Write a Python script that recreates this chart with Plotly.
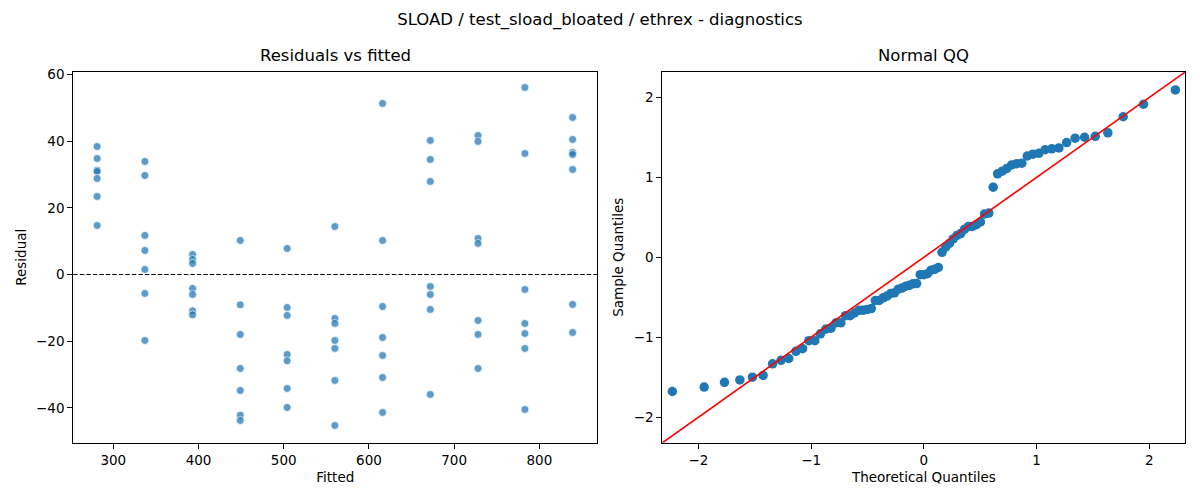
from statistics import NormalDist, mean, pstdev

import plotly.graph_objects as go

# residuals vs fitted, one column of 7 runs per fitted level
fitted = [281] * 7 + [337] * 7 + [393] * 7 + [449] * 7 + [504] * 7 + [560] * 7 + \
         [616] * 7 + [672] * 7 + [728] * 7 + [783] * 7 + [839] * 7
residuals = [
    38.4, 34.8, 31.3, 30.9, 28.8, 23.4, 14.7,
    33.9, 29.7, 11.7, 7.2, 1.5, -5.7, -19.8,
    6.0, 4.5, 3.3, -4.2, -6.0, -10.9, -12.1,
    10.2, -9.1, -18.0, -28.2, -34.8, -42.2, -43.8,
    7.8, -9.9, -12.3, -24.0, -25.9, -34.2, -39.9,
    14.4, -13.2, -14.7, -19.8, -22.2, -31.8, -45.3,
    51.3, 10.2, -9.6, -18.9, -24.3, -30.9, -41.4,
    40.2, 34.5, 27.9, -3.6, -6.0, -10.5, -36.0,
    41.7, 39.9, 10.8, 9.3, -13.8, -18.0, -28.2,
    56.1, 36.3, -4.5, -14.7, -17.7, -22.2, -40.5,
    47.1, 40.5, 36.6, 36.0, 31.5, -9.0, -17.4,
]

fitted_ticks = [300, 400, 500, 600, 700, 800]
residual_ticks = [-40, -20, 0, 20, 40, 60]
qq_ticks = [-2, -1, 0, 1, 2]
qq_range = [-2.32, 2.32]

# normal QQ: standardised residuals against normal quantiles (i / (n + 1))
n = len(residuals)
loc, scale = mean(residuals), pstdev(residuals)
sample_q = sorted((r - loc) / scale for r in residuals)
theoretical_q = [NormalDist().inv_cdf(i / (n + 1)) for i in range(1, n + 1)]

font = 'DejaVu Sans'
blue = '#1f77b4'

fig = go.Figure()

fig.add_trace(go.Scatter(x=fitted, y=residuals, mode='markers', xaxis='x', yaxis='y',
                         marker=dict(color=blue, opacity=0.72, size=8,
                                     line=dict(color='white', width=0.8)),
                         showlegend=False))
fig.add_trace(go.Scatter(x=theoretical_q, y=sample_q, mode='markers', xaxis='x2', yaxis='y2',
                         marker=dict(color=blue, size=9.5), showlegend=False))
fig.add_trace(go.Scatter(x=qq_range, y=qq_range, mode='lines', xaxis='x2', yaxis='y2',
                         line=dict(color='red', width=1.6), showlegend=False))

fig.add_shape(type='line', xref='x domain', yref='y', x0=0, x1=1, y0=0, y1=0,
              line=dict(color='black', width=1.1, dash='4.5px,2px'))

axis_style = dict(showline=True, mirror=True, linecolor='black', linewidth=1.1,
                  ticks='outside', ticklen=5, tickcolor='black', tickwidth=1.1,
                  showgrid=False, zeroline=False,
                  tickfont=dict(family=font, size=13.5, color='black'))

# the page body adds an 8px offset, so the domains are shifted up/left to compensate
fig.update_layout(
    width=1200, height=500,
    margin=dict(l=0, r=0, t=0, b=0),
    paper_bgcolor='white', plot_bgcolor='white',
    font=dict(family=font, color='black'),
    title=dict(text='SLOAD / test_sload_bloated / ethrex - diagnostics',
               x=0.4933, xanchor='center', y=0.99, yanchor='top',
               font=dict(family=font, size=16.5, color='black')),
    xaxis=dict(axis_style, domain=[0.0544, 0.4911], range=[253, 868], tickvals=fitted_ticks,
               title=dict(text='Fitted', standoff=5, font=dict(size=13.5))),
    yaxis=dict(axis_style, domain=[0.132, 0.883], range=[-50.5, 60.8], tickvals=residual_ticks,
               title=dict(text='Residual', standoff=6, font=dict(size=13.5))),
    xaxis2=dict(axis_style, domain=[0.5453, 0.9811], range=qq_range, tickvals=qq_ticks,
                ticktext=['\u22122', '\u22121', '0', '1', '2'], anchor='y2',
                title=dict(text='Theoretical Quantiles', standoff=5, font=dict(size=13.5))),
    yaxis2=dict(axis_style, domain=[0.132, 0.883], range=qq_range, tickvals=qq_ticks,
                ticktext=['\u22122', '\u22121', '0', '1', '2'], anchor='x2',
                title=dict(text='Sample Quantiles', standoff=6, font=dict(size=13.5))),
    annotations=[
        dict(text='Residuals vs fitted', xref='paper', yref='paper', x=0.2728, y=0.883,
             xanchor='center', yanchor='bottom', yshift=5, showarrow=False,
             font=dict(family=font, size=16.5, color='black')),
        dict(text='Normal QQ', xref='paper', yref='paper', x=0.7632, y=0.883,
             xanchor='center', yanchor='bottom', yshift=5, showarrow=False,
             font=dict(family=font, size=16.5, color='black')),
    ],
)

fig.write_html('out.html')
